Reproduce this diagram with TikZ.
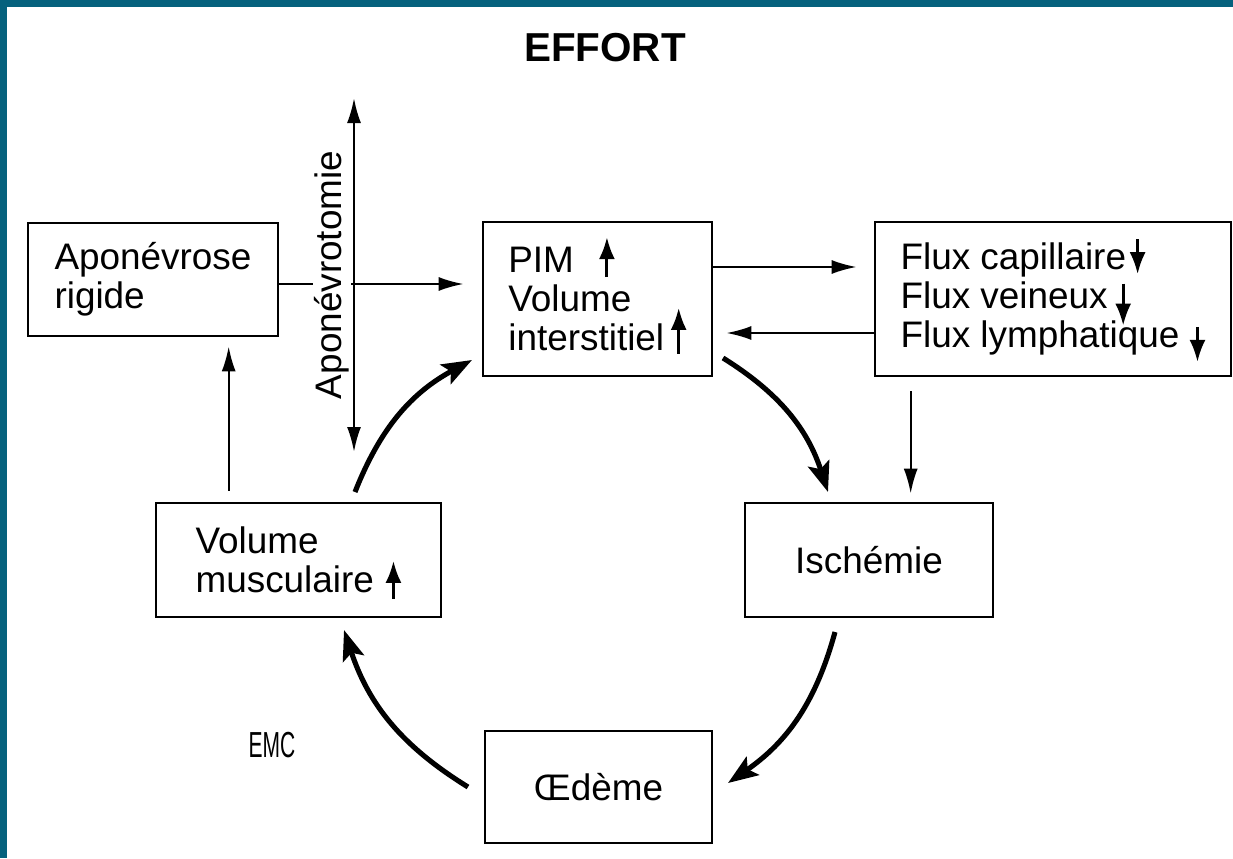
\documentclass[tikz,border=0pt]{standalone}
\usepackage{fontspec}
\setmainfont{Liberation Sans}
\usetikzlibrary{arrows.meta}
\definecolor{bandeau}{HTML}{05617D}

% petites fleches dans le texte (hausse / baisse)
\newcommand{\hausse}[2]{\smash{\tikz[baseline=0pt]\draw[line width=1.7pt,-{Latex[length=0.44cm,width=0.32cm]}] (0,#1) -- (0,#2);}}
\newcommand{\baisse}[2]{\smash{\tikz[baseline=0pt]\draw[line width=1.7pt,-{Latex[length=0.44cm,width=0.32cm]}] (0,#1) -- (0,#2);}}

\begin{document}
\begin{tikzpicture}[
        boite/.style={draw, line width=1.5pt, align=left, inner sep=0pt, font=\fontsize{21}{22.4}\selectfont},
        fleche/.style={line width=1.3pt, -{Latex[length=0.5cm,width=0.28cm]}},
        bifleche/.style={line width=1.3pt, {Latex[length=0.5cm,width=0.28cm]}-{Latex[length=0.5cm,width=0.28cm]}},
        boucle/.style={line width=2.9pt, -{Stealth[length=0.6cm,width=0.44cm,inset=0.12cm]}, bend left=20}
    ]
        \useasboundingbox (0,0) rectangle (24.66,17.16);
        \fill[bandeau] (0,17.02) rectangle (24.66,17.16);
        \fill[bandeau] (0,0) rectangle (0.14,17.16);

        \node[font=\bfseries\fontsize{23}{23}\selectfont] (effort) at (12.1,16.2) {EFFORT};

        \node[boite, minimum width=5cm, minimum height=2.26cm] (apo) at (3.06,11.57) {Aponévrose\\rigide};
        \node[boite, minimum width=4.58cm, minimum height=3.08cm] (pim) at (11.95,11.18)
            {PIM\hspace{0.5cm}\hausse{-0.1}{0.7}\\Volume\\interstitiel\hspace{0.13cm}\hausse{-0.06}{0.86}};
        \node[boite, minimum width=7.12cm, minimum height=3.08cm] (flux) at (21.06,11.18)
            {Flux capillaire\hspace{0.07cm}\baisse{0.6}{-0.1}\\Flux veineux\hspace{0.15cm}\baisse{0.5}{-0.34}\\Flux lymphatique\hspace{0.2cm}\baisse{0.42}{-0.28}};
        \node[boite, minimum width=4.96cm, minimum height=2.28cm] (isch) at (17.38,5.96) {Ischémie};
        \node[boite, minimum width=4.54cm, minimum height=2.24cm] (oed) at (11.97,1.42) {Œdème};
        \node[boite, minimum width=5.7cm, minimum height=2.28cm] (vol) at (5.97,5.96)
            {Volume\\musculaire\hspace{0.23cm}\hausse{-0.12}{0.64}};

        \node (emc) at (5.44,2.26) {\scalebox{0.58}[1]{\fontsize{20.6}{20.6}\selectfont EMC}};

        % aponevrotomie
        \draw[fleche, shorten >=0.36cm] ([yshift=-0.09cm]apo.east) -- ([yshift=-0.09cm]apo.east -| pim.west);
        \node[rotate=90, fill=white, inner sep=1pt, font=\fontsize{21}{22.4}\selectfont] (apotomie) at (6.64,11.66) {Aponévrotomie};
        \coordinate (haut) at (7.08,15.2);
        \coordinate (bas) at (7.08,8.12);
        \draw[bifleche] (bas) -- (haut);

        \draw[fleche, shorten >=0.34cm] ([yshift=0.64cm]pim.east) -- ([yshift=0.64cm]pim.east -| flux.west);
        \draw[fleche, shorten >=0.26cm] ([yshift=-0.68cm]flux.west) -- ([yshift=-0.68cm]flux.west -| pim.east);
        \draw[fleche, shorten <=0.28cm, shorten >=0.16cm] ([xshift=0.74cm]flux.south west) -- ([xshift=0.74cm]flux.south west |- isch.north);
        \draw[fleche, shorten <=0.22cm, shorten >=0.18cm] ([xshift=1.48cm]vol.north west) -- ([xshift=1.48cm]vol.north west |- apo.south);

        % cercle vicieux
        \coordinate (dep1) at (14.46,10.0);
        \coordinate (arr1) at (16.56,7.32);
        \coordinate (dep2) at (16.7,4.52);
        \coordinate (arr2) at (14.56,1.5);
        \coordinate (dep3) at (9.36,1.42);
        \coordinate (arr3) at (6.88,4.56);
        \coordinate (dep4) at (7.1,7.32);
        \coordinate (arr4) at (9.44,9.96);
        \draw[boucle] (dep1) to (arr1);
        \draw[boucle] (dep2) to (arr2);
        \draw[boucle] (dep3) to (arr3);
        \draw[boucle] (dep4) to (arr4);
    \end{tikzpicture}
\end{document}
